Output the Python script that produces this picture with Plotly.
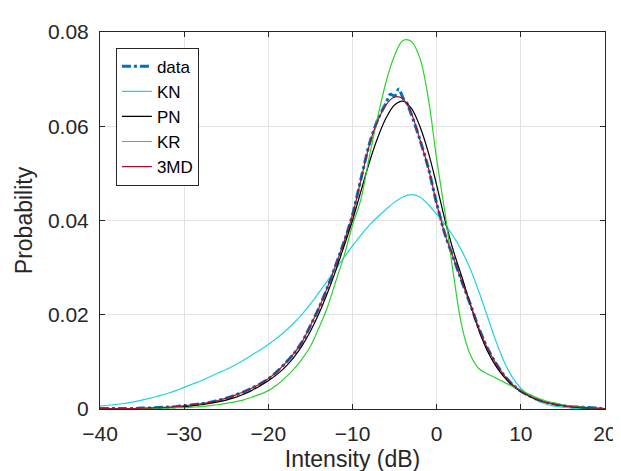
import plotly.graph_objects as go

# x grid of the fitted curves (dB)
x_fit = list(range(-40, 21))

# measured histogram (finer near the peak)
x_data = [-40, -39, -38, -37, -36, -35, -34, -33, -32, -31, -30, -29, -28, -27, -26,
          -25, -24, -23, -22, -21, -20, -19, -18, -17, -16, -15, -14, -13, -12, -11,
          -10, -9, -8, -7, -6, -5.5, -5, -4.5, -4, -3.5, -3, -2, -1, 0, 1, 2, 3, 4,
          5, 6, 7, 8, 9, 10, 11, 12, 13, 14, 15, 16, 17, 18, 19, 20]
p_data = [0.0001, 0.0001, 0.0001, 0.0001, 0.0001, 0.0002, 0.0002, 0.0003, 0.0004, 0.0005,
          0.0007, 0.0009, 0.0011, 0.0014, 0.0018, 0.0023, 0.0029, 0.0036, 0.0044, 0.0053,
          0.0064, 0.0079, 0.0097, 0.0117, 0.0142, 0.0177, 0.0214, 0.0257, 0.0305, 0.0355,
          0.0412, 0.0488, 0.0562, 0.0614, 0.0650, 0.0668, 0.0664, 0.0679, 0.0660, 0.0648,
          0.0625, 0.0572, 0.0512, 0.0436, 0.0370, 0.0320, 0.0270, 0.0222,
          0.0172, 0.0130, 0.0098, 0.0072, 0.0052, 0.0038, 0.0028, 0.0020, 0.0014, 0.0010,
          0.0007, 0.0005, 0.0004, 0.0003, 0.0002, 0.0001]

p_kn = [0.0006, 0.0008, 0.0010, 0.0012, 0.0015, 0.0019, 0.0023, 0.0028, 0.0033, 0.0039,
        0.0046, 0.0053, 0.0060, 0.0068, 0.0076, 0.0084, 0.0093, 0.0103, 0.0114, 0.0125,
        0.0137, 0.0150, 0.0165, 0.0182, 0.0201, 0.0223, 0.0247, 0.0272, 0.0297, 0.0322,
        0.0346, 0.0369, 0.0390, 0.0408, 0.0424, 0.0439, 0.0450, 0.0455, 0.0450, 0.0434,
        0.0413, 0.0392, 0.0366, 0.0335, 0.0297, 0.0250, 0.0198, 0.0146, 0.0101, 0.0067,
        0.0044, 0.0028, 0.0017, 0.0010, 0.0006, 0.0004, 0.0002, 0.0001, 0.0001, 0.0000,
        0.0000]

p_pn = [0.0000, 0.0000, 0.0001, 0.0001, 0.0001, 0.0001, 0.0002, 0.0002, 0.0003, 0.0004,
        0.0005, 0.0007, 0.0009, 0.0012, 0.0015, 0.0019, 0.0024, 0.0031, 0.0039, 0.0049,
        0.0060, 0.0073, 0.0089, 0.0109, 0.0134, 0.0165, 0.0202, 0.0245, 0.0293, 0.0346,
        0.0400, 0.0462, 0.0523, 0.0576, 0.0618, 0.0645, 0.0653, 0.0638, 0.0600, 0.0545,
        0.0475, 0.0400, 0.0335, 0.0280, 0.0222, 0.0168, 0.0124, 0.0092, 0.0068, 0.0050,
        0.0037, 0.0027, 0.0019, 0.0014, 0.0010, 0.0007, 0.0005, 0.0003, 0.0002, 0.0001,
        0.0001]

p_kr = [0.0000, 0.0000, 0.0000, 0.0001, 0.0001, 0.0001, 0.0001, 0.0002, 0.0002, 0.0003,
        0.0003, 0.0004, 0.0005, 0.0007, 0.0009, 0.0012, 0.0015, 0.0019, 0.0025, 0.0031,
        0.0039, 0.0051, 0.0066, 0.0084, 0.0106, 0.0133, 0.0172, 0.0215, 0.0270, 0.0325,
        0.0390, 0.0445, 0.0535, 0.0620, 0.0695, 0.0750, 0.0782, 0.0780, 0.0745, 0.0660,
        0.0530, 0.0415, 0.0285, 0.0175, 0.0115, 0.0086, 0.0075, 0.0066, 0.0057, 0.0048,
        0.0040, 0.0031, 0.0023, 0.0017, 0.0013, 0.0009, 0.0006, 0.0005, 0.0003, 0.0002,
        0.0001]

p_3md = [0.0001, 0.0001, 0.0001, 0.0001, 0.0001, 0.0002, 0.0002, 0.0003, 0.0004, 0.0005,
         0.0007, 0.0009, 0.0011, 0.0014, 0.0018, 0.0023, 0.0029, 0.0036, 0.0044, 0.0053,
         0.0064, 0.0079, 0.0097, 0.0117, 0.0142, 0.0177, 0.0214, 0.0257, 0.0305, 0.0355,
         0.0412, 0.0486, 0.0560, 0.0612, 0.0646, 0.0662, 0.0658, 0.0627, 0.0572, 0.0512,
         0.0436, 0.0370, 0.0320, 0.0270, 0.0222, 0.0172, 0.0130, 0.0098, 0.0072, 0.0052,
         0.0038, 0.0028, 0.0020, 0.0014, 0.0010, 0.0007, 0.0005, 0.0004, 0.0003, 0.0002,
         0.0001]

ink = '#262626'
font_family = 'Liberation Sans, Arial, Helvetica, sans-serif'

fig = go.Figure()
fig.add_trace(go.Scatter(x=x_data, y=p_data, name='data', mode='lines',
                         line=dict(color='#0072BD', width=3, dash='dashdot',
                                   shape='spline', smoothing=0.8)))
fig.add_trace(go.Scatter(x=x_fit, y=p_kn, name='KN', mode='lines',
                         line=dict(color='#22d3e0', width=1.2, shape='spline')))
fig.add_trace(go.Scatter(x=x_fit, y=p_pn, name='PN', mode='lines',
                         line=dict(color='black', width=1.2, shape='spline')))
fig.add_trace(go.Scatter(x=x_fit, y=p_kr, name='KR', mode='lines',
                         line=dict(color='#2ed12e', width=1.2, shape='spline')))
fig.add_trace(go.Scatter(x=x_fit, y=p_3md, name='3MD', mode='lines',
                         line=dict(color='#A2142F', width=1.2, shape='spline')))

axis_common = dict(showgrid=True, gridcolor='#e2e2e2', gridwidth=1,
                   showline=True, linecolor=ink, linewidth=1, mirror='ticks',
                   ticks='inside', ticklen=5, tickcolor=ink, zeroline=False,
                   tickfont=dict(size=21, color=ink, family=font_family),
                   ticklabelstandoff=6)

fig.update_layout(
    width=621, height=471,
    margin=dict(l=92, r=21, t=16, b=69),
    paper_bgcolor='white', plot_bgcolor='white',
    font=dict(family=font_family, color=ink),
    showlegend=True,
    legend=dict(x=0.0315, y=0.9585, xanchor='left', yanchor='top',
                bgcolor='white', bordercolor=ink, borderwidth=1,
                font=dict(size=17, color='black')),
    xaxis=dict(range=[-40, 20], tickvals=[-40, -30, -20, -10, 0, 10, 20],
               title=dict(text='Intensity (dB)', font=dict(size=23, color=ink), standoff=6),
               **axis_common),
    yaxis=dict(range=[0, 0.08], tickvals=[0, 0.02, 0.04, 0.06, 0.08],
               ticktext=['0', '0.02', '0.04', '0.06', '0.08'],
               title=dict(text='Probability', font=dict(size=23, color=ink), standoff=8),
               **axis_common),
)

fig.write_html("out.html")
